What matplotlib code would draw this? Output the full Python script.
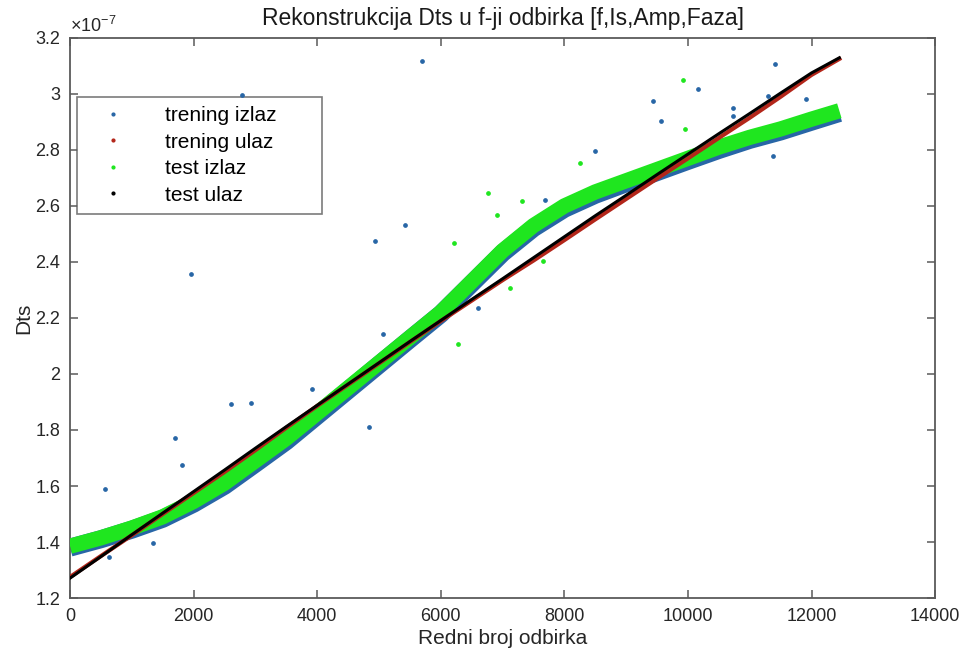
import numpy as np
import matplotlib
matplotlib.use('Agg')
import matplotlib.pyplot as plt
from matplotlib.lines import Line2D
from matplotlib.ticker import FuncFormatter

plt.rcParams['font.family'] = ['Liberation Sans', 'DejaVu Sans']
plt.rcParams['mathtext.default'] = 'regular'

# sample index (redni broj odbirka)
idx = [0, 500, 1000, 1500, 2000, 2500, 3000, 3500, 4000, 4500, 5000, 5500, 6000,
       6500, 7000, 7500, 8000, 8500, 9000, 9500, 10000, 10500, 11000, 11500,
       12000, 12450]

# values in units of 1e-7
test_ulaz = [1.271, 1.348, 1.426, 1.503, 1.580, 1.657, 1.735, 1.812, 1.888, 1.964,
             2.040, 2.116, 2.191, 2.266, 2.340, 2.415, 2.490, 2.565, 2.638, 2.712,
             2.785, 2.858, 2.930, 3.003, 3.075, 3.129]
trening_ulaz = [1.275, 1.350, 1.424, 1.500, 1.575, 1.650, 1.728, 1.808, 1.886, 1.962,
                2.038, 2.114, 2.189, 2.262, 2.335, 2.405, 2.478, 2.552, 2.625, 2.698,
                2.770, 2.843, 2.915, 2.990, 3.068, 3.125]
test_izlaz = [1.385, 1.415, 1.450, 1.490, 1.545, 1.610, 1.690, 1.770, 1.860, 1.950,
              2.040, 2.130, 2.220, 2.330, 2.440, 2.530, 2.600, 2.650, 2.690, 2.730,
              2.770, 2.810, 2.845, 2.875, 2.910, 2.940]
trening_izlaz = [1.380, 1.410, 1.444, 1.483, 1.537, 1.601, 1.680, 1.760, 1.851, 1.942,
                 2.033, 2.124, 2.214, 2.323, 2.432, 2.521, 2.590, 2.640, 2.681, 2.721,
                 2.761, 2.800, 2.836, 2.866, 2.901, 2.932]

# scattered points away from the band
blue_out_x = [1953, 2783, 5696, 5420, 4930, 5065, 2605, 2929, 1699, 4838, 3916, 566,
              1812, 1343, 631, 11408, 10162, 9433, 9563, 11375, 7686, 8495, 6602,
              10728, 10728, 11909, 11294]
blue_out_y = [2.356, 2.996, 3.118, 2.532, 2.476, 2.143, 1.893, 1.896, 1.771, 1.811,
              1.946, 1.589, 1.675, 1.396, 1.346, 3.107, 3.018, 2.975, 2.904, 2.779,
              2.621, 2.796, 2.236, 2.950, 2.920, 2.982, 2.993]
green_out_x = [9919, 7314, 9951, 8252, 6764, 6909, 6278, 7120, 7654, 6214]
green_out_y = [3.050, 2.618, 2.875, 2.754, 2.646, 2.568, 2.107, 2.307, 2.404, 2.468]

c_blue = '#2866a6'
c_red = '#b3261a'
c_green = '#1fe61f'
c_black = '#000000'

scale = 1e-7
fig = plt.figure(figsize=(9.66, 6.54), dpi=100)
ax = fig.add_axes([0.0725, 0.0856, 0.8955, 0.8564])

ax.plot(idx, np.array(trening_izlaz) * scale, color=c_blue, lw=13,
        solid_capstyle='butt', solid_joinstyle='round', zorder=2)
ax.plot(idx, np.array(test_izlaz) * scale, color=c_green, lw=11,
        solid_capstyle='butt', solid_joinstyle='round', zorder=3)
ax.plot(idx, np.array(trening_ulaz) * scale, color=c_red, lw=3.0,
        solid_joinstyle='round', zorder=4)
ax.plot(idx, np.array(test_ulaz) * scale, color=c_black, lw=2.2,
        solid_joinstyle='round', zorder=5)
ax.plot(blue_out_x, np.array(blue_out_y) * scale, ls='none', marker='o', ms=2.4,
        color=c_blue, zorder=6)
ax.plot(green_out_x, np.array(green_out_y) * scale, ls='none', marker='o', ms=2.4,
        color=c_green, zorder=6)

ax.set_xlim(0, 14000)
ax.set_ylim(1.2e-7, 3.2e-7)
ax.set_xticks(np.arange(0, 14001, 2000))
ax.set_yticks(np.arange(1.2, 3.21, 0.2) * scale)
ax.yaxis.set_major_formatter(FuncFormatter(lambda v, p: '%g' % round(v / scale, 2)))

edge = '#5a5a5a'
for s in ax.spines.values():
    s.set_color(edge)
    s.set_linewidth(1.3)
ax.tick_params(direction='in', top=True, right=True, length=6, width=1.1,
               color=edge, labelcolor='#262626', labelsize=13, pad=7)

ax.text(0.0, 1.003, r'$\times10^{-7}$', transform=ax.transAxes, fontsize=13,
        color='#262626', ha='left', va='bottom')
ax.set_title('Rekonstrukcija Dts u f-ji odbirka [f,Is,Amp,Faza]', fontsize=16.5,
             color='#1a1a1a', pad=9)
ax.set_xlabel('Redni broj odbirka', fontsize=15, color='#262626', labelpad=3)
ax.set_ylabel('Dts', fontsize=15, color='#262626')
ax.yaxis.set_label_coords(-0.042, 0.5)

handles = [Line2D([], [], ls='none', marker='.', ms=4, color=c)
           for c in (c_blue, c_red, c_green, c_black)]
leg = ax.legend(handles, ['trening izlaz', 'trening ulaz', 'test izlaz', 'test ulaz'],
                loc='upper left', bbox_to_anchor=(0.008, 0.684, 0.2835, 0.211),
                mode='expand', fontsize=15, frameon=True, fancybox=False,
                handlelength=2.6, handletextpad=1.2, borderpad=0.45,
                labelspacing=0.36, borderaxespad=0.0)
leg.get_frame().set_edgecolor(edge)
leg.get_frame().set_linewidth(1.2)

fig.savefig('out.png', dpi=100)
